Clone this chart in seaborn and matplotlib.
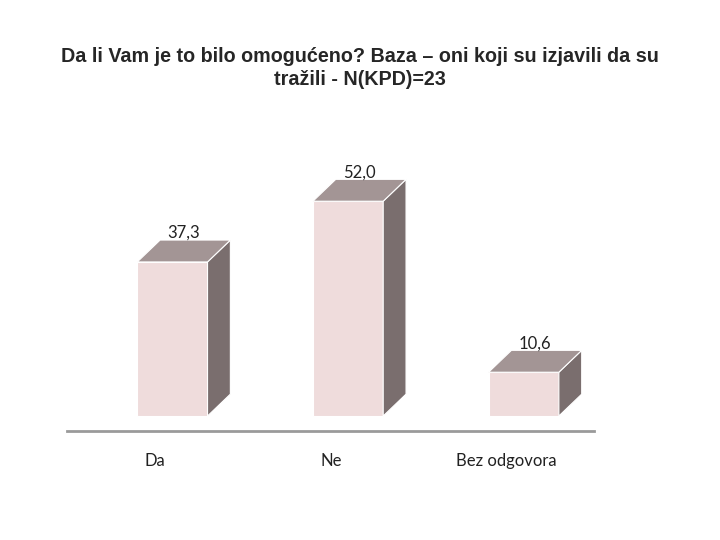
import matplotlib
matplotlib.use("Agg")
import matplotlib.pyplot as plt
import numpy as np
import pandas as pd
import seaborn as sns
from matplotlib.patches import Polygon

categories = ["Da", "Ne", "Bez odgovora"]
values = [37.3, 52.0, 10.6]
value_labels = ["37,3", "52,0", "10,6"]
title = "Da li Vam je to bilo omogućeno? Baza – oni koji su izjavili da su\ntražili - N(KPD)=23"

front_color = "#EFDCDC"
top_color = "#A39595"
side_color = "#7A6E6E"

sns.set_style("white")
plt.rcParams["font.family"] = ["Lato", "DejaVu Sans"]

df = pd.DataFrame({"kategorija": categories, "vrijednost": values})

fig = plt.figure(figsize=(7.2, 5.4), dpi=100)
ax = fig.add_axes([67 / 720, (540 - 431) / 540, 527 / 720, 281 / 540])

sns.barplot(data=df, x="kategorija", y="vrijednost", color=front_color,
            width=0.4, saturation=1, ax=ax, edgecolor="white", linewidth=0.8)

ax.set_xlim(-0.6, 2.4)
ax.set_ylim(-3.63, 64.4)

# 3D look: depth offset in data units
dx, dy = 0.13, 5.3
for bar, lab in zip(ax.patches, value_labels):
    x, w, h = bar.get_x(), bar.get_width(), bar.get_height()
    top = Polygon([(x, h), (x + dx, h + dy), (x + w + dx, h + dy), (x + w, h)],
                  closed=True, facecolor=top_color, edgecolor="white", linewidth=0.8)
    side = Polygon([(x + w, 0), (x + w + dx, dy), (x + w + dx, h + dy), (x + w, h)],
                   closed=True, facecolor=side_color, edgecolor="white", linewidth=0.8)
    ax.add_patch(side)
    ax.add_patch(top)
    ax.text(x + (w + dx) / 2, h + dy + 0.5, lab, ha="center", va="baseline",
            fontsize=12, color="#222222")

for s in ["top", "right", "left"]:
    ax.spines[s].set_visible(False)
ax.spines["bottom"].set_color("#9a9a9a")
ax.spines["bottom"].set_linewidth(2)
ax.set_yticks([])
# category labels sit a bit left of the bar centres, as in the original
ax.set_xticks(np.arange(len(categories)) - 0.097, categories)
ax.set_xlabel("")
ax.set_ylabel("")
ax.tick_params(axis="x", length=0, pad=16, labelsize=12, labelcolor="#222222")

fig.text(0.5, 1 - 68 / 540, title, ha="center", va="center", fontsize=14.2,
         fontweight="bold", family=["Liberation Sans", "DejaVu Sans"], linespacing=1.25)

fig.savefig("out.png", dpi=100)
